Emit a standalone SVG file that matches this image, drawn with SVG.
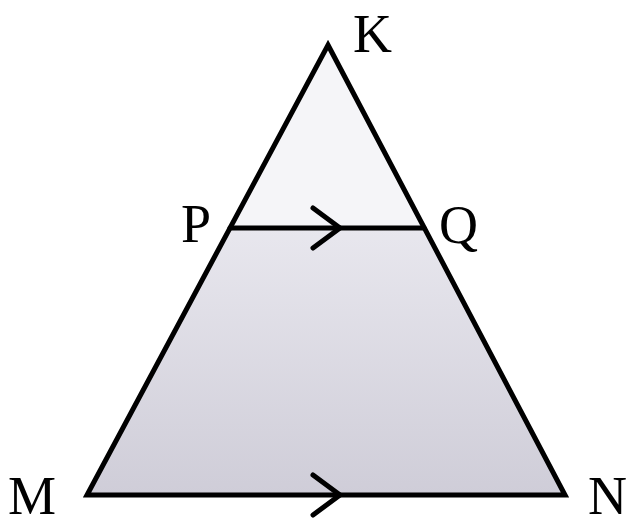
<svg xmlns="http://www.w3.org/2000/svg" width="632" height="525" viewBox="0 0 632 525">
<style>
.edge{fill:none;stroke:#000;stroke-width:5;stroke-linejoin:miter;stroke-linecap:round}
.lbl{font-family:"Liberation Serif","Times New Roman",serif;font-size:54px;fill:#000}
</style>
<defs>
<linearGradient id="g" x1="0" y1="0" x2="0" y2="1">
<stop offset="0" stop-color="#e8e7ee"/>
<stop offset="1" stop-color="#cfcdd8"/>
</linearGradient>
</defs>
<rect width="632" height="525" fill="#fff"/>
<g id="fills">
<polygon points="328,45 230,228 424,228" fill="#f5f5f8"/>
<polygon points="230,228 424,228 565,495 87,495" fill="url(#g)"/>
</g>
<g id="connectors">
<polygon class="edge" points="328,45 565,495 87,495"/>
<line class="edge" x1="230" y1="228" x2="424" y2="228"/>
<polyline class="edge" points="313,208 340,228 313,248"/>
<polyline class="edge" points="313,475 340,495 313,515"/>
</g>
<g id="K"><text class="lbl" x="353" y="52">K</text></g>
<g id="P"><text class="lbl" x="181" y="242">P</text></g>
<g id="Q"><text class="lbl" x="439" y="243">Q</text></g>
<g id="M"><text class="lbl" x="8" y="514">M</text></g>
<g id="N"><text class="lbl" x="588" y="514">N</text></g>
</svg>
